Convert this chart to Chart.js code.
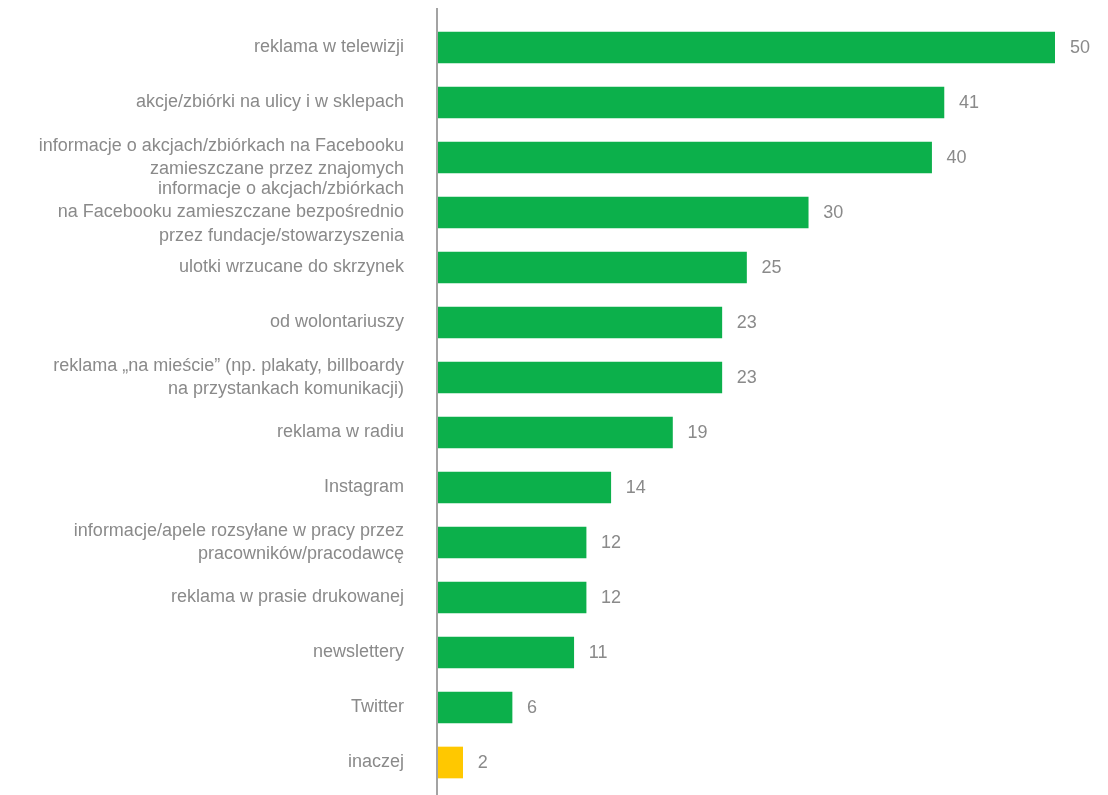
<!DOCTYPE html>
<html>
<head>
<meta charset="utf-8">
<script src="https://cdn.jsdelivr.net/npm/chart.js@4"></script>
<style>
  html, body { margin: 0; padding: 0; background: #fff; }
  #wrap { width: 1108px; height: 795px; position: relative; }
</style>
</head>
<body>
<div id="wrap"><canvas id="sourcesChart"></canvas></div>
<script>
const categories = [
  'reklama w telewizji',
  'akcje/zbiórki na ulicy i w sklepach',
  ['informacje o akcjach/zbiórkach na Facebooku', 'zamieszczane przez znajomych'],
  ['informacje o akcjach/zbiórkach', 'na Facebooku zamieszczane bezpośrednio', 'przez fundacje/stowarzyszenia'],
  'ulotki wrzucane do skrzynek',
  'od wolontariuszy',
  ['reklama \u201ena mieście\u201d (np. plakaty, billboardy', 'na przystankach komunikacji)'],
  'reklama w radiu',
  'Instagram',
  ['informacje/apele rozsyłane w pracy przez', 'pracowników/pracodawcę'],
  'reklama w prasie drukowanej',
  'newslettery',
  'Twitter',
  'inaczej'
];
const values = [50, 41, 40, 30, 25, 23, 23, 19, 14, 12, 12, 11, 6, 2];

const green = '#0cb04b';
const yellow = '#ffc800';
const grey = '#8a8a8a';
const fontFamily = '"Liberation Sans", Arial, sans-serif';

// value next to the end of each bar
const valueLabels = {
  id: 'valueLabels',
  afterDatasetsDraw(chart) {
    const { ctx } = chart;
    const meta = chart.getDatasetMeta(0);
    ctx.save();
    ctx.font = '18px ' + fontFamily;
    ctx.fillStyle = grey;
    ctx.textAlign = 'left';
    ctx.textBaseline = 'middle';
    meta.data.forEach((bar, i) => {
      ctx.fillText(values[i], bar.x + 15, bar.y + 1);
    });
    ctx.restore();
  }
};

// vertical axis line, a bit longer than the plot area
const axisLine = {
  id: 'axisLine',
  afterDraw(chart) {
    const { ctx, chartArea } = chart;
    ctx.save();
    ctx.strokeStyle = '#a3a3a3';
    ctx.lineWidth = 2;
    ctx.beginPath();
    ctx.moveTo(chartArea.left - 1, 8);
    ctx.lineTo(chartArea.left - 1, 795);
    ctx.stroke();
    ctx.restore();
  }
};

const ctx = document.getElementById('sourcesChart');
new Chart(ctx, {
  type: 'bar',
  data: {
    labels: categories,
    datasets: [{
      data: values,
      backgroundColor: values.map((v, i) => i === values.length - 1 ? yellow : green),
      barThickness: 31
    }]
  },
  options: {
    indexAxis: 'y',
    responsive: true,
    maintainAspectRatio: false,
    animation: false,
    layout: {
      padding: { top: 20, bottom: 5, right: 53, left: 0 }
    },
    plugins: {
      legend: { display: false },
      tooltip: { enabled: false }
    },
    scales: {
      x: {
        display: false,
        min: 0,
        max: 50
      },
      y: {
        grid: { display: false },
        border: { display: false },
        afterFit(scale) {
          scale.width = 438;
          // multi-line labels would otherwise push the plot area inward
          scale.paddingTop = 0;
          scale.paddingBottom = 0;
        },
        ticks: {
          autoSkip: false,
          color: grey,
          padding: 26,
          font: { family: fontFamily, size: 18, lineHeight: 1.3 }
        }
      }
    }
  },
  plugins: [valueLabels, axisLine]
});
</script>
</body>
</html>
